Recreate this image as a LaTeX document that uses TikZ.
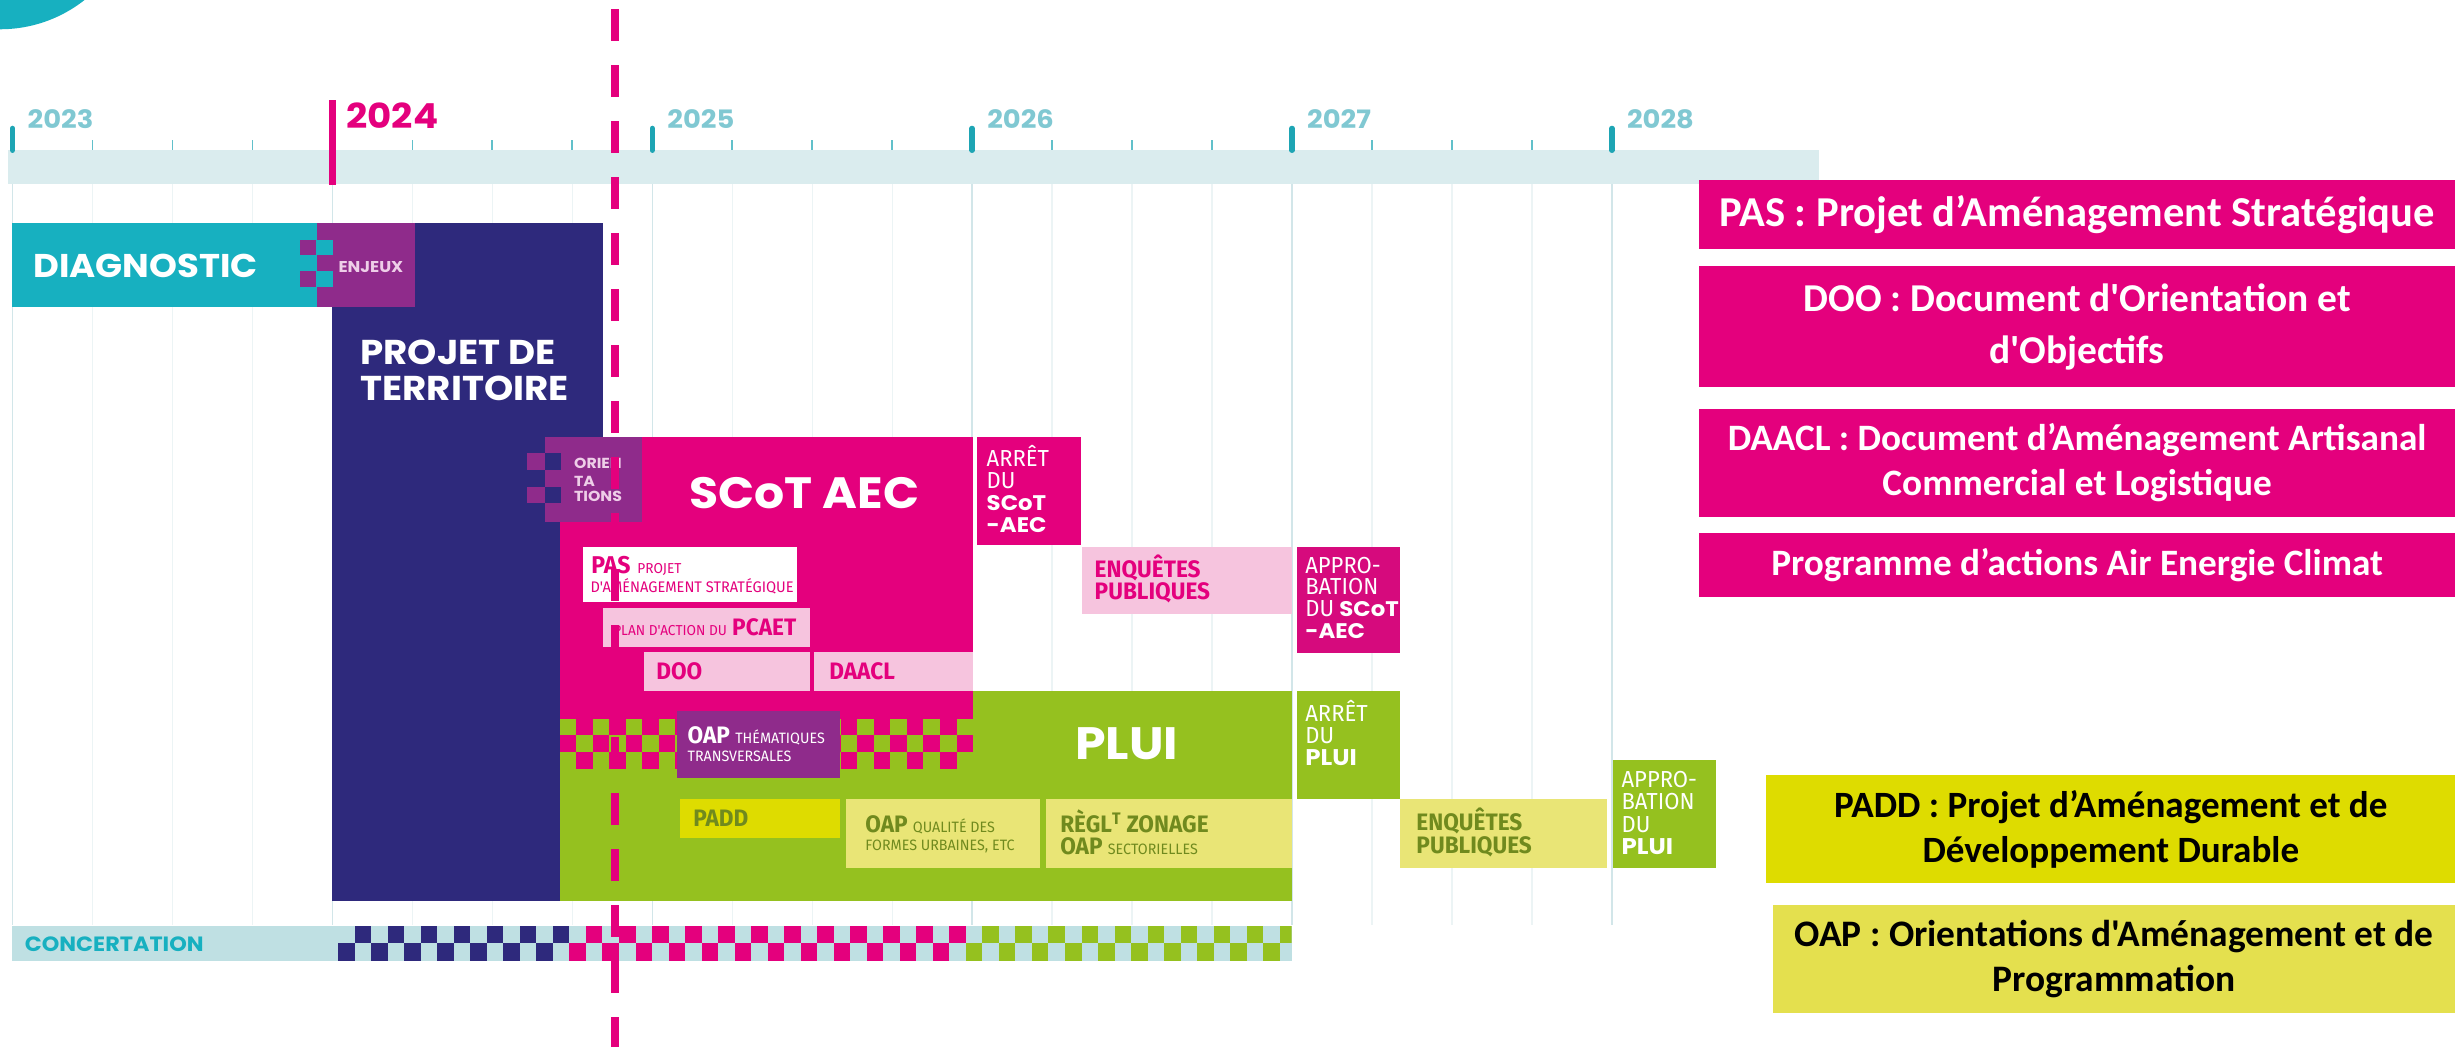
\documentclass[tikz,border=0pt]{standalone}
\usepackage{fontspec}
\usepackage{tikz}
\usetikzlibrary{positioning}

\setmainfont{Fira Sans}
\newfontfamily\dispfont{Poppins}[FakeStretch=1.08]
\newfontfamily\condfont{Fira Sans}[FakeStretch=0.95]
\newfontfamily\legfont{Carlito}
\newcommand{\fsz}[1]{\fontsize{#1}{#1}\selectfont}

\definecolor{tealc}{RGB}{23,176,192}
\definecolor{teallt}{RGB}{128,200,210}
\definecolor{tickc}{RGB}{30,165,180}
\definecolor{bandc}{RGB}{218,236,238}
\definecolor{concc}{RGB}{191,224,227}
\definecolor{gridc}{RGB}{210,230,233}
\definecolor{gridlt}{RGB}{236,244,245}
\definecolor{navyc}{RGB}{46,41,124}
\definecolor{purplec}{RGB}{143,43,139}
\definecolor{pinkc}{RGB}{228,0,125}
\definecolor{pinkdk}{RGB}{214,10,125}
\definecolor{pinklt}{RGB}{246,196,222}
\definecolor{greenc}{RGB}{149,193,31}
\definecolor{yellowc}{RGB}{222,220,0}
\definecolor{yellowlt}{RGB}{233,229,118}
\definecolor{oapleg}{RGB}{228,224,78}
\definecolor{olivec}{RGB}{112,138,30}
\definecolor{lilac}{RGB}{238,206,232}

\tikzset{
  txt/.style={inner sep=0pt, anchor=base west},
  disp/.style={txt, font=\dispfont\bfseries\fsz{#1}},
  hd/.style={txt, font=\condfont\bfseries\fsz{#1}},
  sm/.style={txt, font=\condfont\fsz{#1}},
  box/.style={rectangle, inner sep=0pt, anchor=north west},
  legbox/.style={box, align=center, font=\legfont\bfseries}
}

\begin{document}
\begin{tikzpicture}[x=1pt, y=-1pt]
  \useasboundingbox (0,0) rectangle (1568,669);
  % corner disc
  \begin{scope}
    \clip (0,0) rectangle (1568,669);
    \fill[tealc] (0,-68.6) circle (87.3);
  \end{scope}

  % Grid and time axis
  \foreach \q in {0,...,20}
    \draw[gridlt, line width=0.8] (8+51.075*\q,117) -- (8+51.075*\q,591);
  \foreach \k in {0,...,5}
    \draw[gridc, line width=0.9] (8+204.3*\k,117) -- (8+204.3*\k,591);
  \fill[bandc] (5,96) rectangle (1162,117.7);
  \foreach \q in {1,...,20}
    \draw[tickc!70, line width=1.1] (8+51.075*\q,89.5) -- (8+51.075*\q,96);
  \foreach \k/\yr in {0/2023,2/2025,3/2026,4/2027,5/2028} {
    \draw[tickc, line width=3.4, line cap=round] (8+204.3*\k,82) -- (8+204.3*\k,96);
    \node[disp=16.2, text=teallt] (y\yr) at (17.5+204.3*\k,82) {\yr};
  }
  \fill[pinkc] (210,64) rectangle (214.5,118);
  \node[disp=22, text=pinkc] (y2024) at (221,82) {2024};

  % Concertation
  \node[box, fill=concc, minimum width=817.3, minimum height=22.1] (conc) at (7.7,591.5) {};
  \begin{scope}
    \clip (0,580) rectangle (825,620);
    \foreach \c in {0,...,57} {
      \ifnum\c<14 \def\cc{navyc}\else\ifnum\c<38 \def\cc{pinkc}\else\def\cc{greenc}\fi\fi
      \ifodd\c
        \fill[\cc] (216+10.55*\c,591.5) rectangle ++(10.55,11);
      \else
        \fill[\cc] (216+10.55*\c,602.5) rectangle ++(10.55,11.1);
      \fi
    }
  \end{scope}
  \node[disp=13.2, text=tealc] (conctxt) at (15.7,608) {CONCERTATION};

  % Place blocks
  \node[box, fill=navyc, minimum width=173, minimum height=433] (projet) at (212,142) {};
  \node[box, fill=tealc, minimum width=194.3, minimum height=54] (diag) at (7.7,142) {};
  \node[box, fill=purplec, minimum width=63, minimum height=54] (enjeux) at (202,142) {};
  \fill[purplec] (191.5,153) rectangle (202,163);
  \fill[purplec] (191.5,173) rectangle (202,183);
  \fill[tealc] (202,153) rectangle (212.5,163);
  \fill[tealc] (202,173) rectangle (212.5,183);
  \node[disp=21, text=white] (diagtxt) at (21,177) {DIAGNOSTIC};
  \node[disp=10, text=lilac] (enjeuxtxt) at (216,174) {ENJEUX};
  \node[disp=22, text=white] (projtxt) at (230,233) {PROJET DE};
  \node[disp=22, text=white] (territxt) at (230,255.5) {TERRITOIRE};

  \node[box, fill=greenc, minimum width=467.5, minimum height=134] (plui) at (357.5,441) {};
  \node[box, fill=pinkc, minimum width=264, minimum height=180] (scot) at (357.5,279) {};
  \foreach \c in {0,...,24}
    \foreach \r in {0,1,2} {
      \pgfmathtruncatemacro\pk{mod(\c+\r,2)}
      \ifnum\pk=1 \fill[pinkc] (357.5+10.56*\c,459+10.67*\r) rectangle ++(10.56,10.67); \fi
    }

  % Orientations
  \node[box, fill=purplec, minimum width=62, minimum height=54] (orient) at (348,279) {};
  \fill[purplec] (336.5,289.5) rectangle (348,300);
  \fill[purplec] (336.5,311) rectangle (348,321.5);
  \fill[navyc] (348,289.5) rectangle (358,300);
  \fill[navyc] (348,311) rectangle (358,321.5);
  \node[disp=9.3, text=lilac] (ori1) at (366.5,299) {ORIEN};
  \node[disp=9.3, text=lilac] (ori2) at (366.5,310.5) {TA};
  \node[disp=9.3, text=lilac] (ori3) at (366.5,320.5) {TIONS};

  \node[disp=28, text=white] (scottxt) at (440,325) {SCoT AEC};

  % Inner boxes of the SCoT
  \node[box, fill=white, minimum width=137, minimum height=35] (pas) at (372,349) {};
  \node[hd=15.5, text=pinkc] (pastxt) at (377.5,366.6) {PAS};
  \node[sm=9.2, text=pinkc, base right=4pt of pastxt] (pasproj) {PROJET};
  \node[sm=9.8, text=pinkc] (pasam) at (377,378.5) {D'AMÉNAGEMENT STRATÉGIQUE};

  \node[box, fill=pinklt, minimum width=132, minimum height=25] (pcaet) at (385,388) {};
  \node[sm=9.2, text=pinkc] (plantxt) at (391.5,406) {PLAN D'ACTION DU};
  \node[hd=15.2, text=pinkc, base right=3pt of plantxt] (pcaettxt) {PCAET};

  \node[box, fill=pinklt, minimum width=106, minimum height=25] (doo) at (411,416) {};
  \node[hd=15.2, text=pinkc] (dootxt) at (419,434.3) {DOO};
  \node[box, fill=pinklt, minimum width=101.5, minimum height=25] (daacl) at (520,416) {};
  \node[hd=15.2, text=pinkc] (daacltxt) at (529.5,434.3) {DAACL};

  % Inner boxes of the PLUi
  \node[box, fill=purplec, minimum width=104, minimum height=43] (oapthem) at (432,454) {};
  \node[hd=15.2, text=white] (oapt1) at (439,474.7) {OAP};
  \node[sm=9.6, text=white, base right=3pt of oapt1] (oapt2) {THÉMATIQUES};
  \node[sm=9.6, text=white] (oapt3) at (439,486.6) {TRANSVERSALES};

  \node[disp=29, text=white] (pluitxt) at (686.6,485.4) {PLUI};

  \node[box, fill=yellowc, minimum width=102, minimum height=25] (padd) at (434,510) {};
  \node[hd=15.2, text=olivec] (paddtxt) at (442.6,528) {PADD};
  \node[box, fill=yellowlt, minimum width=124, minimum height=44] (oapq) at (540,510) {};
  \node[hd=15.2, text=olivec] (oapq1) at (552.5,532) {OAP};
  \node[sm=9.6, text=olivec, base right=3pt of oapq1] (oapq2) {QUALITÉ DES};
  \node[sm=9.6, text=olivec] (oapq3) at (552.5,543.4) {FORMES URBAINES, ETC};
  \node[box, fill=yellowlt, minimum width=157, minimum height=44] (regl) at (668,510) {};
  \node[hd=15.2, text=olivec] (regl1) at (677,532) {RÈGL\textsuperscript{T} ZONAGE};
  \node[hd=15.2, text=olivec] (regl2) at (677,545.5) {OAP};
  \node[sm=9.6, text=olivec, base right=3pt of regl2] (regl3) {SECTORIELLES};

  % Milestones
  \node[box, fill=pinkc, minimum width=66, minimum height=69] (arretscot) at (624,279) {};
  \node[sm=14.8, text=white] (as1) at (630,298) {ARRÊT};
  \node[sm=14.8, text=white] (as2) at (630,312) {DU};
  \node[disp=13.5, text=white] (as3) at (630,326) {SCoT};
  \node[disp=13.5, text=white] (as4) at (630,340) {-AEC};

  \node[box, fill=pinklt, minimum width=134, minimum height=43] (enqscot) at (691,349) {};
  \node[hd=15.2, text=pinkc] (es1) at (699,369) {ENQUÊTES};
  \node[hd=15.2, text=pinkc] (es2) at (699,383) {PUBLIQUES};

  \node[box, fill=pinkdk, minimum width=66, minimum height=68] (approscot) at (828,349) {};
  \node[sm=14.8, text=white] (aps1) at (833.5,366) {APPRO-};
  \node[sm=14.8, text=white] (aps2) at (833.5,380) {BATION};
  \node[sm=14.8, text=white] (aps3) at (833.5,394) {DU};
  \node[disp=13.5, text=white, base right=3pt of aps3] (aps4) {SCoT};
  \node[disp=13.5, text=white] (aps5) at (833.5,407.5) {-AEC};

  \node[box, fill=greenc, minimum width=66, minimum height=69] (arretplui) at (828,441) {};
  \node[sm=14.8, text=white] (ap1) at (833.5,461) {ARRÊT};
  \node[sm=14.8, text=white] (ap2) at (833.5,474.6) {DU};
  \node[disp=14.5, text=white] (ap3) at (833.5,489) {PLUI};

  \node[box, fill=yellowlt, minimum width=132, minimum height=44] (enqplui) at (894,510) {};
  \node[hd=15.2, text=olivec] (ep1) at (904.5,530.6) {ENQUÊTES};
  \node[hd=15.2, text=olivec] (ep2) at (904.5,545) {PUBLIQUES};

  \node[box, fill=greenc, minimum width=66, minimum height=69] (approplui) at (1030,485) {};
  \node[sm=14.8, text=white] (app1) at (1035.5,503) {APPRO-};
  \node[sm=14.8, text=white] (app2) at (1035.5,517) {BATION};
  \node[sm=14.8, text=white] (app3) at (1035.5,531.5) {DU};
  \node[disp=14.5, text=white] (app4) at (1035.5,546) {PLUI};

  % Legend
  \node[legbox, fill=pinkc, text=white, minimum width=483, minimum height=44,
    font=\legfont\bfseries\fontsize{27.2}{32}\selectfont] (legpas) at (1085,115)
    {PAS : Projet d’Aménagement Stratégique};
  \node[legbox, fill=pinkc, text=white, minimum width=483, minimum height=77,
    font=\legfont\bfseries\fontsize{25.2}{33.5}\selectfont] (legdoo) at (1085,170)
    {DOO : Document d'Orientation et\\d'Objectifs};
  \node[legbox, fill=pinkc, text=white, minimum width=483, minimum height=69,
    font=\legfont\bfseries\fontsize{23.8}{28.7}\selectfont] (legdaacl) at (1085,261)
    {DAACL : Document d’Aménagement Artisanal\\Commercial et Logistique};
  \node[legbox, fill=pinkc, text=white, minimum width=483, minimum height=41,
    font=\legfont\bfseries\fontsize{23.8}{28}\selectfont] (legprog) at (1085,340)
    {Programme d’actions Air Energie Climat};
  \node[legbox, fill=yellowc, text=black, minimum width=440, minimum height=69,
    font=\legfont\bfseries\fontsize{23.7}{29}\selectfont] (legpadd) at (1128,495)
    {PADD : Projet d’Aménagement et de\\Développement Durable};
  \node[legbox, fill=oapleg, text=black, minimum width=436, minimum height=69,
    font=\legfont\bfseries\fontsize{23.9}{29}\selectfont] (legoap) at (1132,578)
    {OAP : Orientations d'Aménagement et de\\Programmation};

  % today marker
  \draw[pinkc, line width=5, dash pattern=on 20.44pt off 15.33pt, dash phase=29.81pt]
    (393,0) -- (393,669);
\end{tikzpicture}
\end{document}
